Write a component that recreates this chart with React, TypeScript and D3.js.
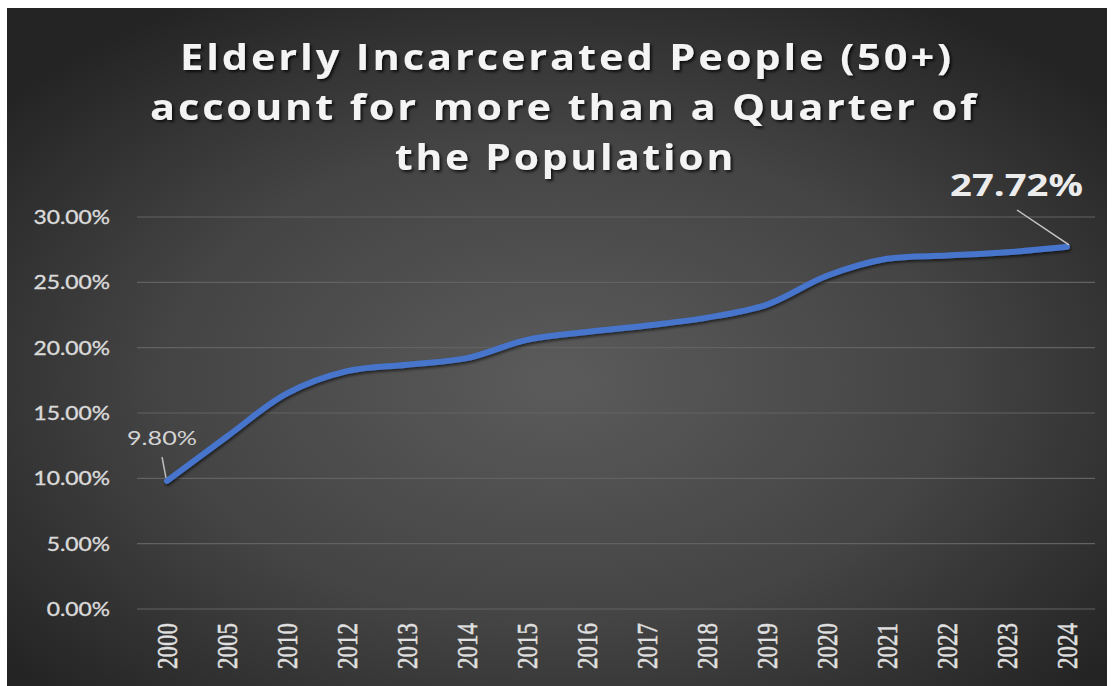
import React from "react";
import * as d3 from "d3";

const years = ["2000","2005","2010","2012","2013","2014","2015","2016","2017","2018","2019","2020","2021","2022","2023","2024"];
const shares = [0.098,0.132,0.165,0.182,0.187,0.192,0.206,0.212,0.217,0.223,0.233,0.255,0.268,0.2705,0.273,0.2772];
const yTicks = [0,0.05,0.10,0.15,0.20,0.25,0.30];
const titleLines = ["Elderly Incarcerated People (50+)","account for more than a Quarter of","the Population"];
const labeledIdx = [0, 15];

const W = 1120, H = 686;

export default function App() {
  const x = d3.scaleBand<string>().domain(years).range([137, 1097]).padding(0);
  const y = d3.scaleLinear().domain([0, 0.30]).range([609, 217]);
  const cx = (yr: string) => (x(yr) as number) + x.bandwidth() / 2;
  const line = d3.line<number>()
    .x((_, i) => cx(years[i]))
    .y((v) => y(v))
    .curve(d3.curveCatmullRom.alpha(0.5));
  const pct = d3.format(".2%");

  const titleGeom = [
    { x: 180, w: 774, y: 70 },
    { x: 150, w: 829, y: 120 },
    { x: 395, w: 341, y: 170 },
  ];

  const first = labeledIdx[0], last = labeledIdx[1];
  const p0 = { x: cx(years[first]), y: y(shares[first]) };
  const p1 = { x: cx(years[last]), y: y(shares[last]) };

  return (
    <svg width={W} height={H} style={{ position: "absolute", left: 0, top: 0 }}>
      <defs>
        <radialGradient id="bg" cx="50%" cy="55%" r="65%">
          <stop offset="0%" stopColor="#5b5b5b" />
          <stop offset="55%" stopColor="#444444" />
          <stop offset="100%" stopColor="#242424" />
        </radialGradient>
        <filter id="tshadow" x="-5%" y="-20%" width="110%" height="150%">
          <feDropShadow dx="2" dy="2" stdDeviation="1.5" floodColor="#000" floodOpacity="0.75" />
        </filter>
        <filter id="lshadow" x="-5%" y="-20%" width="110%" height="150%">
          <feDropShadow dx="1" dy="2" stdDeviation="1.5" floodColor="#000" floodOpacity="0.6" />
        </filter>
      </defs>
      <rect x={0} y={0} width={W} height={H} fill="#ffffff" />
      <rect x={7} y={8} width={1100} height={678} fill="url(#bg)" />

      {/* gridlines */}
      {yTicks.map((t) => (
        <line key={t} x1={137} x2={1095} y1={y(t)} y2={y(t)} stroke="#626262" strokeWidth={1.2} />
      ))}

      {/* y labels */}
      {yTicks.map((t) => (
        <text key={"l" + t}
          transform={`translate(110,${y(t)}) scale(1.2,1)`}
          textAnchor="end" dy="0.36em"
          fontFamily="Lato, 'Open Sans', sans-serif" fontSize={19}
          fill="#dadada" stroke="#dadada" strokeWidth={0.35}>{pct(t)}</text>
      ))}

      {/* x labels */}
      {years.map((yr) => (
        <text key={yr}
          transform={`translate(${cx(yr)},623) scale(1.25,1) rotate(-90)`}
          textAnchor="end" dy="0.34em"
          fontFamily="'Liberation Serif', 'DejaVu Serif', serif" fontSize={23}
          fill="#e0e0e0" stroke="#e0e0e0" strokeWidth={0.4}>{yr}</text>
      ))}

      {/* line */}
      <path d={line(shares) || ""} fill="none" stroke="#4674cc" strokeWidth={6}
        strokeLinejoin="round" strokeLinecap="round" filter="url(#lshadow)" />

      {/* annotations */}
      <line x1={162} y1={457} x2={p0.x - 1} y2={p0.y - 3} stroke="#bdbdbd" strokeWidth={1.5} />
      <text x={127} y={445} textLength={70} lengthAdjust="spacingAndGlyphs"
        fontFamily="Lato, 'Open Sans', sans-serif" fontSize={20} fill="#d4d4d4">{pct(shares[first])}</text>

      <line x1={1017} y1={210} x2={p1.x + 2} y2={p1.y - 2} stroke="#c8c8c8" strokeWidth={1.5} />
      <text x={950} y={196} textLength={133} lengthAdjust="spacingAndGlyphs"
        fontFamily="'Open Sans', sans-serif" fontWeight={700} fontSize={30} fill="#ececec">{pct(shares[last])}</text>

      {/* title */}
      {titleLines.map((s, i) => (
        <text key={s} x={titleGeom[i].x} y={titleGeom[i].y}
          textLength={titleGeom[i].w} lengthAdjust="spacingAndGlyphs"
          letterSpacing={2.5}
          fontFamily="'Open Sans', sans-serif" fontWeight={700} fontSize={36}
          fill="#f4f4f4" filter="url(#tshadow)">{s}</text>
      ))}
    </svg>
  );
}
